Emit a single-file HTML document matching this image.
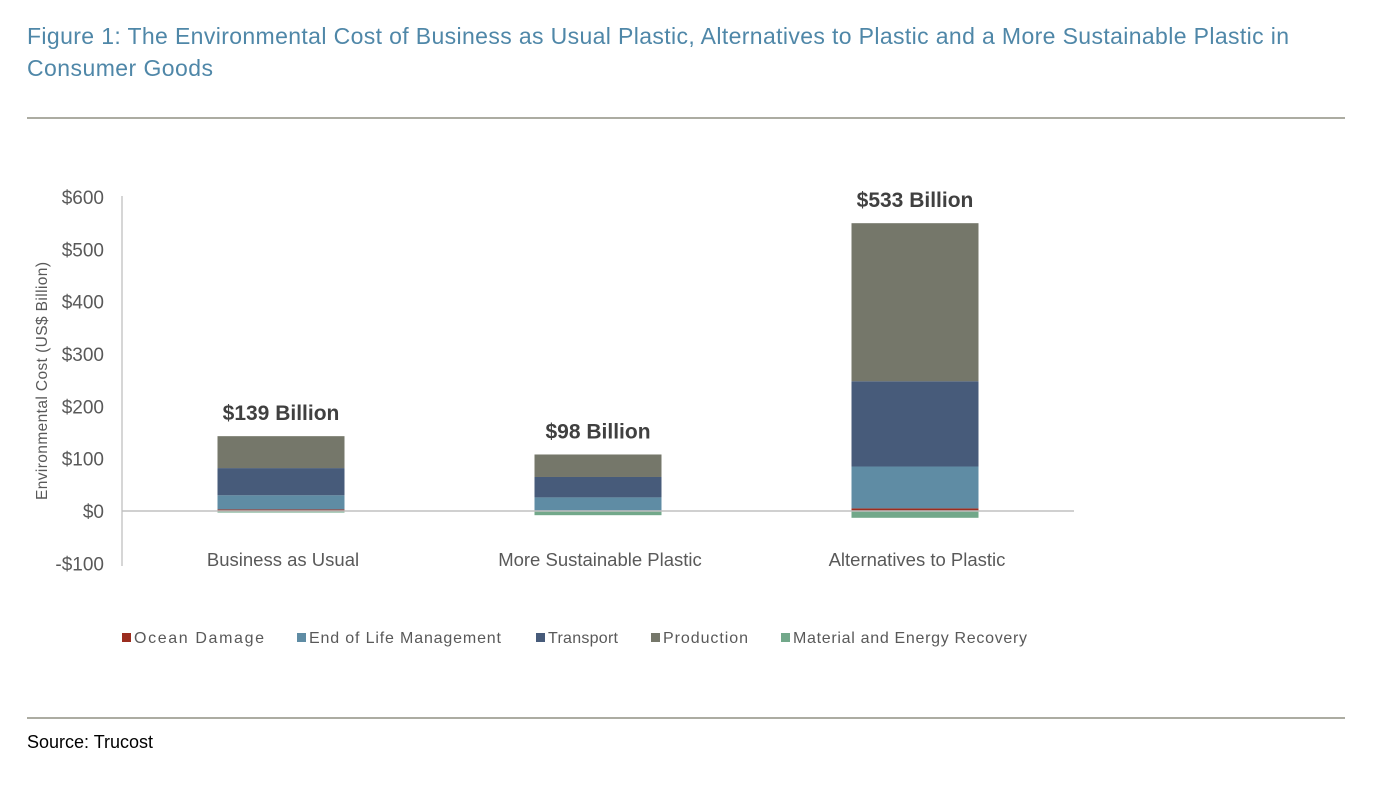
<!DOCTYPE html>
<html><head><meta charset="utf-8"><style>
body{margin:0;background:#fff;width:1379px;height:785px;overflow:hidden;font-family:"Liberation Sans",sans-serif}
</style></head><body>
<svg width="1379" height="785">
<text x="27" y="44" font-size="23" fill="#4f87a8" textLength="1262" lengthAdjust="spacing">Figure 1: The Environmental Cost of Business as Usual Plastic, Alternatives to Plastic and a More Sustainable Plastic in</text>
<text x="27" y="76" font-size="23" fill="#4f87a8" textLength="186" lengthAdjust="spacing">Consumer Goods</text>
<line x1="27" y1="118" x2="1345" y2="118" stroke="#7a7a6a" stroke-width="1.2"/>
<line x1="27" y1="718" x2="1345" y2="718" stroke="#7a7a6a" stroke-width="1.2"/>
<text x="27" y="748" font-size="18" fill="#000">Source: Trucost</text>
<text transform="translate(47,381) rotate(-90)" text-anchor="middle" font-size="15.5" fill="#595959" textLength="238">Environmental Cost (US$ Billion)</text>
<line x1="122" y1="196" x2="122" y2="566" stroke="#c8c8c8" stroke-width="1.5"/>
<g id="chart"></g>
</svg>
<script>
const categories=["Business as Usual","More Sustainable Plastic","Alternatives to Plastic"];
const totals=["$139 Billion","$98 Billion","$533 Billion"];
const seriesNames=["Ocean Damage","End of Life Management","Transport","Production","Material and Energy Recovery"];
const seriesColors=["#9b2d1f","#5f8ca4","#475b7a","#75776a","#72a88a"];
const oceanDamage=[3,1,5];
const endOfLife=[27,25,80];
const transport=[52,39,163];
const production=[61,43,302];
const recovery=[-3,-8,-13];
const yTicks=[600,500,400,300,200,100,0,-100];
const yTickLabels=["$600","$500","$400","$300","$200","$100","$0","-$100"];
const NS="http://www.w3.org/2000/svg";
const g=document.getElementById('chart');
function y(v){return 511-v*0.5233;}
function xc(i){return 281+i*317;}
const bw=127;
function mk(t,a){const e=document.createElementNS(NS,t);for(const k in a)e.setAttribute(k,a[k]);g.appendChild(e);return e;}
yTicks.forEach((v,i)=>{
 const t=mk('text',{x:104,y:y(v)+7,'text-anchor':'end','font-size':19,fill:'#595959'});
 t.textContent=yTickLabels[i];
 
 
});
const stacks=[oceanDamage,endOfLife,transport,production];
categories.forEach((c,i)=>{
 let base=0;
 stacks.forEach((s,k)=>{
  const v=s[i];
  const r=mk('rect',{x:xc(i)-bw/2,y:y(base+v),width:bw,height:Math.max(0,y(base)-y(base+v)),fill:seriesColors[k]});
  
  
  base+=v;
 });
 const rr=mk('rect',{x:xc(i)-bw/2,y:y(0),width:bw,height:y(recovery[i])-y(0),fill:seriesColors[4]});
 
 
 const lt=mk('text',{x:xc(i),y:y(base)-16,'text-anchor':'middle','font-size':21,'font-weight':'bold',fill:'#404040'});
 lt.textContent=totals[i];
 
 
 const ct=mk('text',{x:xc(i)+2,y:566,'text-anchor':'middle','font-size':18.5,fill:'#595959'});
 ct.textContent=c;
 
 
});
const zl=mk('line',{x1:122,y1:y(0),x2:1074,y2:y(0),stroke:'#c0c0c0','stroke-width':1.5});


const lx=[122,297,536,651,781];
const lw=[130,192,70,85,234];
seriesNames.forEach((n,k)=>{
 const r=mk('rect',{x:lx[k],y:633,width:9,height:9,fill:seriesColors[k]});
 
 
 const t=mk('text',{x:lx[k]+12,y:643,'font-size':16,fill:'#595959',textLength:lw[k]});
 t.textContent=n;
 
 
});
</script>
</body></html>
